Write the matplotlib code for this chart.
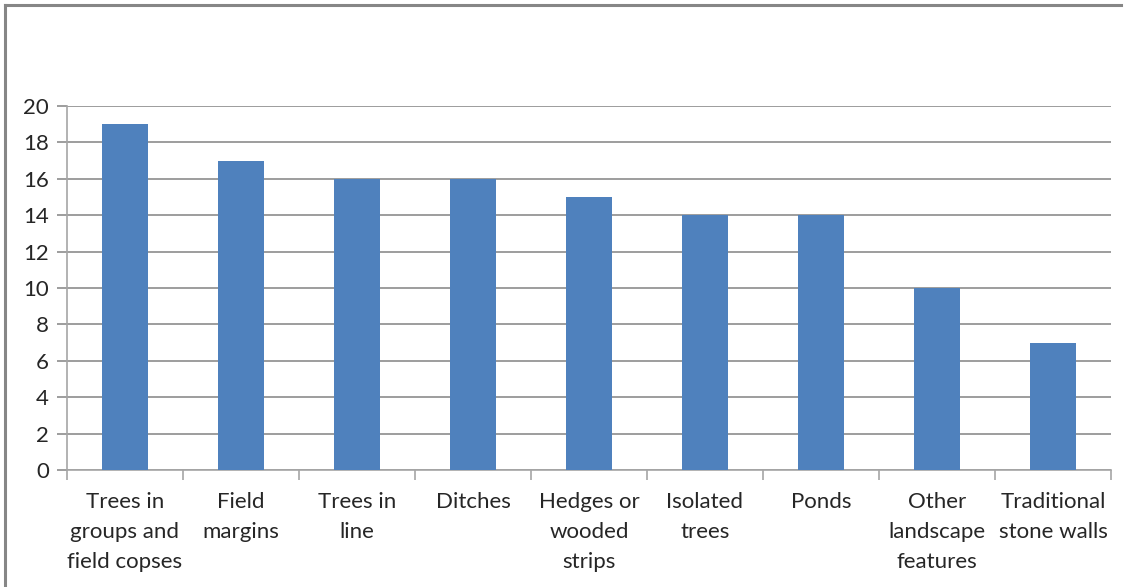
import numpy as np
import matplotlib.pyplot as plt
from matplotlib.lines import Line2D

categories = ['Trees in\ngroups and\nfield copses', 'Field\nmargins', 'Trees in\nline',
              'Ditches', 'Hedges or\nwooded\nstrips', 'Isolated\ntrees', 'Ponds',
              'Other\nlandscape\nfeatures', 'Traditional\nstone walls']
values = [19, 17, 16, 16, 15, 14, 14, 10, 7]
yticks = [0, 2, 4, 6, 8, 10, 12, 14, 16, 18, 20]

plt.rcParams['font.family'] = ['Lato', 'DejaVu Sans']

fig = plt.figure(figsize=(11.3, 5.87), dpi=100)
ax = fig.add_axes([67 / 1130, 1 - 470 / 587, (1111 - 67) / 1130, (470 - 106) / 587])

x = np.arange(len(categories))
ax.bar(x, values, width=0.4, color='#4F81BD', zorder=3)

ax.set_xlim(-0.5, len(categories) - 0.5)
ax.set_ylim(0, 20)
ax.set_yticks(yticks)
ax.yaxis.grid(True, color='#8C8C8C', linewidth=1.2, zorder=0)

# category separators on x axis
ax.set_xticks(np.arange(-0.5, len(categories)), minor=True)
ax.set_xticks(x)
ax.set_xticklabels(categories, fontsize=16, color='#262626', linespacing=1.62)
ax.tick_params(axis='x', which='major', length=0, pad=16)
ax.tick_params(axis='x', which='minor', length=7, color='#A6A6A6', width=1.2)
ax.tick_params(axis='y', length=7, color='#8C8C8C', width=1.2, labelsize=16,
               labelcolor='#262626', pad=6)

for s in ['top', 'right']:
    ax.spines[s].set_visible(False)
ax.spines['left'].set_color('#A6A6A6')
ax.spines['bottom'].set_color('#A6A6A6')
ax.spines['left'].set_linewidth(1.2)
ax.spines['bottom'].set_linewidth(1.2)

# outer chart frame (top and left visible)
fig.add_artist(Line2D([5 / 1130, 1121 / 1130], [1 - 5 / 587, 1 - 5 / 587],
                      color='#868686', linewidth=2.2, transform=fig.transFigure))
fig.add_artist(Line2D([5 / 1130, 5 / 1130], [0, 1 - 5 / 587],
                      color='#868686', linewidth=2.2, transform=fig.transFigure))

fig.savefig('out.png', dpi=100)
